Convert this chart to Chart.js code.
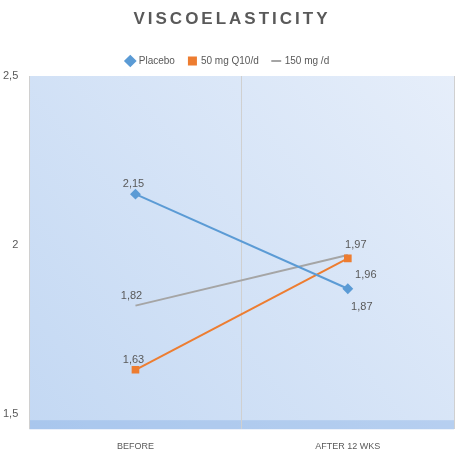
<!DOCTYPE html>
<html><head>
<script src="https://cdn.jsdelivr.net/npm/chart.js@4"></script>
<style>body{margin:0;background:#fff}#wrap{width:460px;height:466px}</style>
</head><body><div id="wrap"><canvas id="c"></canvas></div>
<script>
const categories = ['BEFORE', 'AFTER 12 WKS'];
const placebo = [2.15, 1.87];
const q10_50 = [1.63, 1.96];
const q10_150 = [1.82, 1.97];
const yTicks = [1.5, 2, 2.5];

const fmt = v => String(v).replace('.', ',');

// gradient plot area + title with letter spacing
const backdrop = {
    id: 'backdrop',
    beforeDraw(chart) {
        const {ctx, chartArea: a} = chart;
        const g = ctx.createLinearGradient(a.left, a.bottom, a.right, a.top);
        g.addColorStop(0, '#c3d8f3');
        g.addColorStop(1, '#e6eefa');
        ctx.save();
        ctx.fillStyle = g;
        ctx.fillRect(a.left, a.top, a.right - a.left, a.bottom - a.top);
        ctx.fillStyle = 'rgba(120,165,225,0.35)';
        ctx.fillRect(a.left, a.bottom - 9, a.right - a.left, 9);
        ctx.restore();
    },
    afterDraw(chart) {
        const ctx = chart.ctx;
        ctx.save();
        ctx.letterSpacing = '3px';
        ctx.font = 'bold 17px "Liberation Sans", Arial, sans-serif';
        ctx.fillStyle = '#595959';
        ctx.textAlign = 'center';
        ctx.textBaseline = 'middle';
        ctx.fillText('VISCOELASTICITY', chart.width / 2 + 2, 19);
        ctx.restore();
    }
};

// value labels next to the points
const labelPos = [[-10, -10], [-10, -10], [-12, -10]];
const labelPos2 = [[6, 18], [10, 17], [0, -10]];
const valueLabels = {
    id: 'valueLabels',
    afterDatasetsDraw(chart) {
        const ctx = chart.ctx;
        ctx.save();
        ctx.font = '11px "Liberation Sans", Arial, sans-serif';
        ctx.fillStyle = '#595959';
        ctx.textAlign = 'center';
        chart.data.datasets.forEach((ds, i) => {
            chart.getDatasetMeta(i).data.forEach((pt, j) => {
                const off = j === 0 ? labelPos[i] : labelPos2[i];
                ctx.fillText(fmt(ds.data[j]), pt.x + off[0] + 8, pt.y + off[1]);
            });
        });
        ctx.restore();
    }
};

new Chart(document.getElementById('c'), {
    type: 'line',
    data: {
        labels: categories,
        datasets: [
            {label: 'Placebo', data: placebo, borderColor: '#5b9bd5', backgroundColor: '#5b9bd5',
             pointStyle: 'rectRot', pointRadius: 4, borderWidth: 2},
            {label: '50 mg Q10/d', data: q10_50, borderColor: '#ed7d31', backgroundColor: '#ed7d31',
             pointStyle: 'rect', pointRadius: 4, borderWidth: 2},
            {label: '150 mg /d', data: q10_150, borderColor: '#a5a5a5', backgroundColor: '#a5a5a5',
             pointRadius: 0, borderWidth: 2, pointStyle: 'line'},
        ]
    },
    options: {
        responsive: true,
        maintainAspectRatio: false,
        animation: false,
        layout: {padding: {top: 42, right: 4, left: 0, bottom: 2}},
        plugins: {
            legend: {
                labels: {
                    usePointStyle: true, boxWidth: 7, boxHeight: 7, padding: 14,
                    color: '#595959', font: {size: 10, family: '"Liberation Sans", Arial'}
                }
            },
            tooltip: {enabled: false}
        },
        scales: {
            x: {
                offset: true,
                grid: {offset: true, color: '#d0d0d0', drawTicks: false},
                border: {display: false},
                ticks: {color: '#595959', padding: 12, font: {size: 9, family: '"Liberation Sans", Arial'}}
            },
            y: {
                min: 1.454, max: 2.5,
                afterBuildTicks: s => { s.ticks = yTicks.map(v => ({value: v})); },
                grid: {display: false},
                border: {display: false},
                ticks: {color: '#595959', font: {size: 11, family: '"Liberation Sans", Arial'}, callback: v => fmt(v)}
            }
        }
    },
    plugins: [backdrop, valueLabels]
});
</script></body></html>
